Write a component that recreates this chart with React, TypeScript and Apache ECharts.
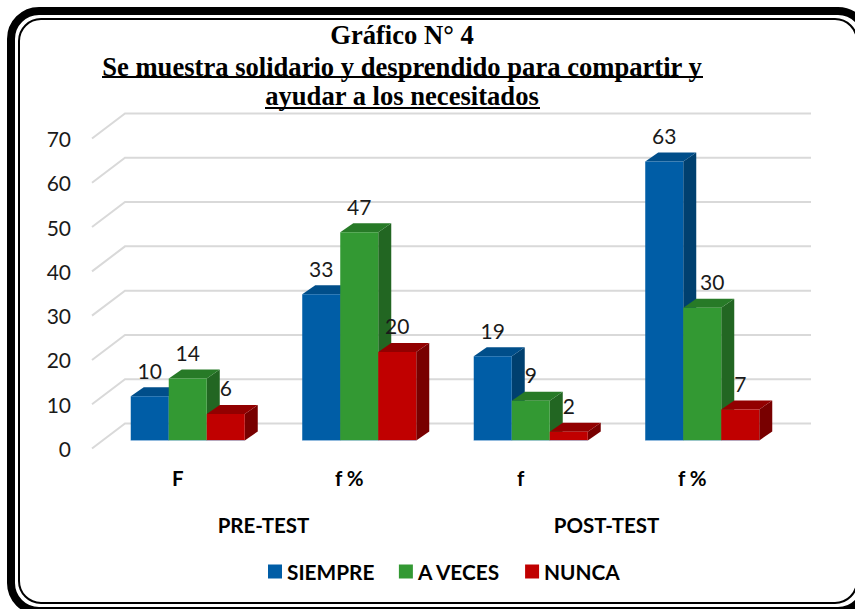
import React, { useEffect, useRef } from "react";
import * as echarts from "echarts";

const titleLines = ["Gráfico N° 4", "Se muestra solidario y desprendido para compartir y", "ayudar a los necesitados"];
const categories = ["F", "f %", "f", "f %"];
const groups = ["PRE-TEST", "POST-TEST"];
const yTicks = [0, 10, 20, 30, 40, 50, 60, 70];
const siempre = [10, 33, 19, 63];
const aVeces = [14, 47, 9, 30];
const nunca = [6, 20, 2, 7];

const FONT = "Lato, 'Open Sans', sans-serif";
const palettes = [
  { front: "#005DA6", top: "#004E8A", side: "#00406F" },
  { front: "#339933", top: "#277A27", side: "#226622" },
  { front: "#C00000", top: "#920000", side: "#780000" },
];
const BAR_RATIO = 0.2216;
const SHIFT_X = 10;
const SHIFT_Y = -8;
const DEPTH_X = 13;
const DEPTH_Y = 9;

// The source moves the label of a short bar clear of a much taller neighbour's side face.
function labelNudgeX(index: number, cat: number) {
  return index === 1 && cat === 3 ? 10 : 0;
}

function barSeries(name: string, values: number[], index: number) {
  const p = palettes[index];
  return {
    name,
    type: "custom",
    xAxisIndex: 0,
    yAxisIndex: 0,
    z: 3,
    itemStyle: { color: p.front },
    encode: { x: 0, y: 1 },
    data: values.map((v, i) => [i, v]),
    renderItem: (_params: any, api: any) => {
      const cat = api.value(0);
      const val = api.value(1);
      const w = api.size([1, 0])[0] * BAR_RATIO;
      const top = api.coord([cat, val]);
      const base = api.coord([cat, 0]);
      const x0 = top[0] + SHIFT_X + (index - 1.5) * w;
      const x1 = x0 + w;
      const yt = top[1] + SHIFT_Y;
      const yb = base[1] + SHIFT_Y;
      return {
        type: "group",
        children: [
          { type: "polygon", shape: { points: [[x1, yt], [x1 + DEPTH_X, yt - DEPTH_Y], [x1 + DEPTH_X, yb - DEPTH_Y], [x1, yb]] }, style: { fill: p.side } },
          { type: "polygon", shape: { points: [[x0, yt], [x0 + DEPTH_X, yt - DEPTH_Y], [x1 + DEPTH_X, yt - DEPTH_Y], [x1, yt]] }, style: { fill: p.top } },
          { type: "rect", shape: { x: x0, y: yt, width: w, height: yb - yt }, style: { fill: p.front } },
          { type: "line", shape: { x1: x0, y1: yb, x2: x1, y2: yb }, style: { stroke: "#9DC3E6", lineWidth: 1, opacity: 0.6 } },
          {
            type: "text",
            z2: 20,
            style: {
              text: String(val),
              x: (x0 + x1) / 2 + labelNudgeX(index, cat),
              y: yt - 26,
              align: "center",
              verticalAlign: "middle",
              fill: "#1a1a1a",
              font: `21px ${FONT}`,
            },
          },
        ],
      };
    },
  };
}

const gridSeries = {
  type: "custom",
  name: "grid",
  silent: true,
  z: 1,
  xAxisIndex: 0,
  yAxisIndex: 0,
  encode: { y: 0 },
  data: yTicks.map((v) => [v]),
  renderItem: (params: any, api: any) => {
    const y = api.coord([0, api.value(0)])[1];
    const left = params.coordSys.x;
    const right = left + params.coordSys.width;
    const lineStyle = { stroke: "#D9D9D9", lineWidth: 2, fill: "none" };
    return {
      type: "polyline",
      shape: { points: [[left, y], [left + 33, y - 25], [right + 33, y - 25]] },
      style: lineStyle,
    };
  },
};

export default function App() {
  const ref = useRef<HTMLDivElement>(null);
  useEffect(() => {
    document.body.style.margin = "0";
    document.body.style.overflow = "hidden";
    const chart = echarts.init(ref.current!, null, { renderer: "svg" });
    const titleBase = { left: 397, textAlign: "center" };
    const titleStyle = { fontFamily: "'Liberation Serif', serif", fontWeight: "bold", fontSize: 26.6, color: "#000" };
    chart.setOption({
      animation: false,
      backgroundColor: "#fff",
      title: [
        { ...titleBase, text: titleLines[0], top: 16, textStyle: titleStyle },
        { ...titleBase, text: titleLines[1], top: 48, textStyle: titleStyle },
        { ...titleBase, text: titleLines[2], top: 77, textStyle: titleStyle },
      ],
      grid: { left: 92, top: 138.5, width: 686, height: 310, containLabel: false },
      xAxis: [
        {
          type: "category",
          data: categories,
          axisLine: { show: false },
          axisTick: { show: false },
          axisLabel: { margin: 19, fontFamily: FONT, fontWeight: "bold", fontSize: 20.5, color: "#000" },
        },
        {
          type: "category",
          data: groups,
          position: "bottom",
          offset: 47,
          axisLine: { show: false },
          axisTick: { show: false },
          axisLabel: { margin: 19, fontFamily: FONT, fontWeight: "bold", fontSize: 20.5, color: "#000" },
        },
      ],
      yAxis: {
        type: "value",
        min: 0,
        max: 70,
        interval: 10,
        splitLine: { show: false },
        axisLine: { show: false },
        axisTick: { show: false },
        axisLabel: { margin: 21, fontFamily: FONT, fontSize: 21, color: "#1a1a1a" },
      },
      legend: {
        data: ["SIEMPRE", "A VECES", "NUNCA"],
        left: 268,
        top: 561,
        padding: 0,
        icon: "rect",
        itemWidth: 14,
        itemHeight: 14,
        itemGap: 24.5,
        selectedMode: false,
        textStyle: { fontFamily: FONT, fontWeight: "bold", fontSize: 20.8, color: "#000" },
      },
      series: [gridSeries, barSeries("SIEMPRE", siempre, 0), barSeries("A VECES", aVeces, 1), barSeries("NUNCA", nunca, 2)],
      graphic: [
        { type: "rect", silent: true, shape: { x: 11, y: 11, width: 855, height: 600, r: 28 }, style: { fill: "none", stroke: "#000", lineWidth: 8 } },
        { type: "rect", silent: true, shape: { x: 19, y: 19, width: 838, height: 584, r: 22 }, style: { fill: "none", stroke: "#000", lineWidth: 2 } },
        { type: "rect", silent: true, shape: { x: 102, y: 76, width: 601, height: 2 }, style: { fill: "#000" } },
        { type: "rect", silent: true, shape: { x: 265, y: 107, width: 275, height: 2 }, style: { fill: "#000" } },
      ],
    });
    return () => chart.dispose();
  }, []);
  return <div ref={ref} style={{ width: 855, height: 609 }} />;
}
